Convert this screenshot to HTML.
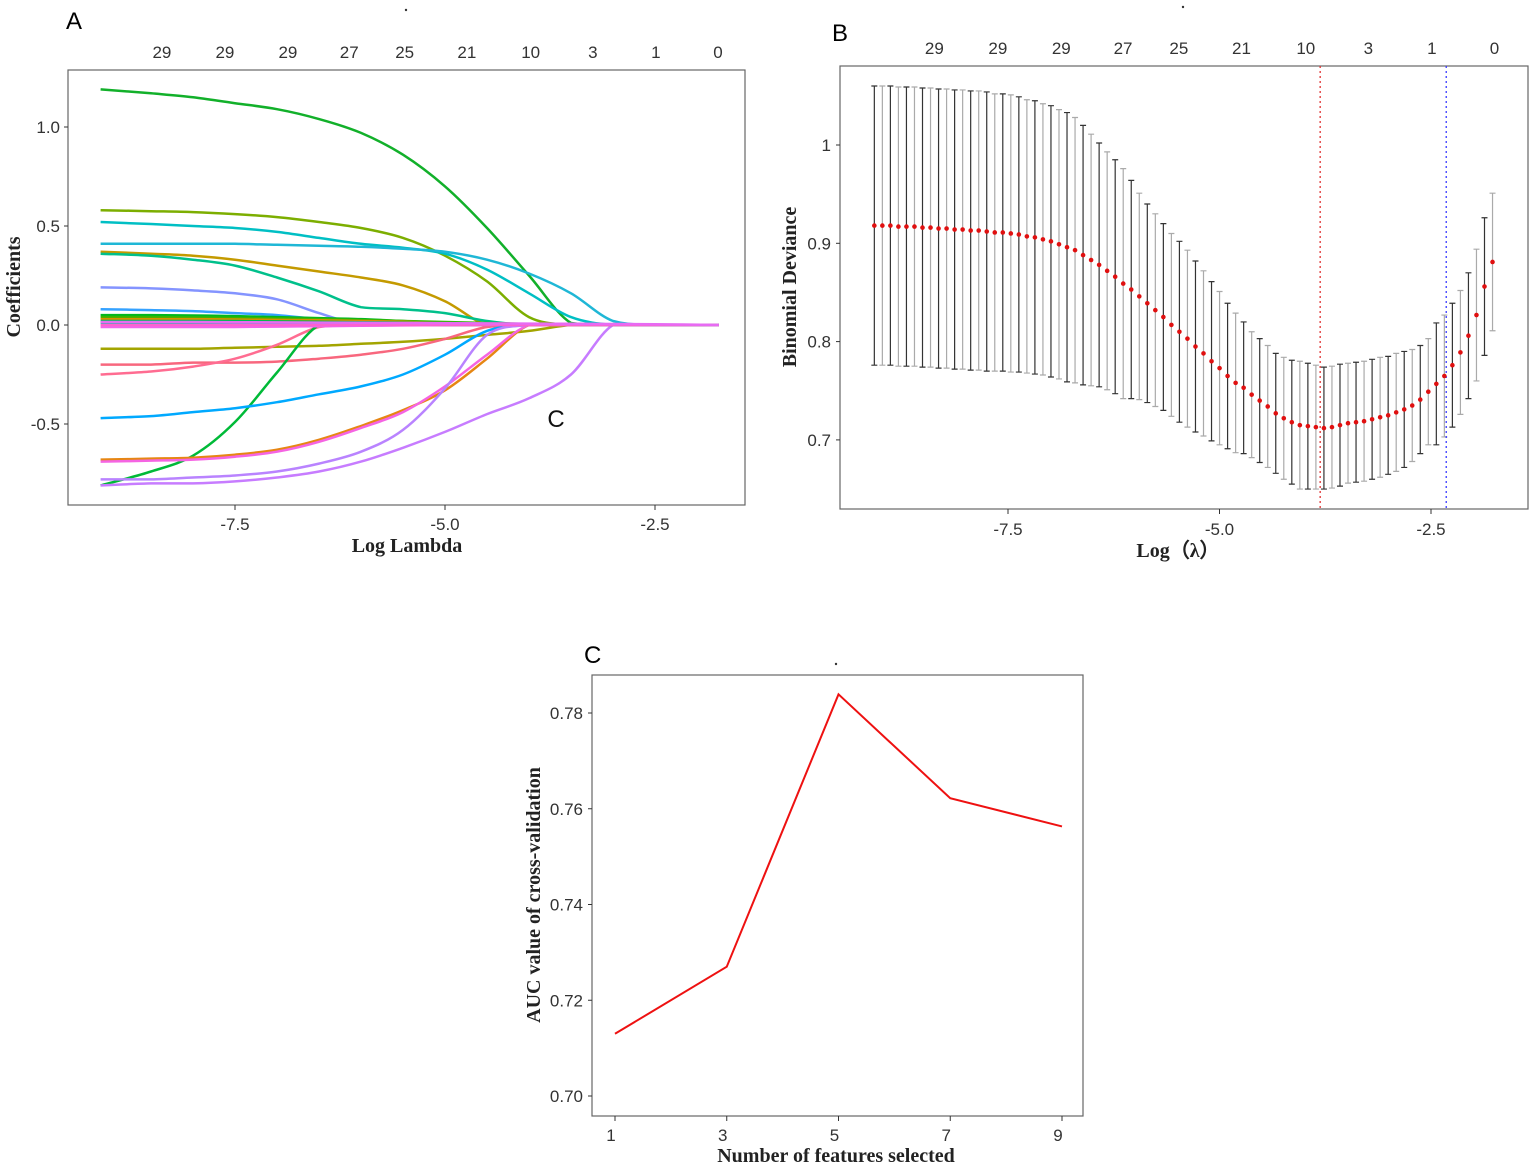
<!DOCTYPE html>
<html><head><meta charset="utf-8"><style>
body{margin:0;background:#fff}
svg text{font-family:"Liberation Sans",sans-serif}
.tk{font-size:17px;fill:#333}
.ttl{font-family:"Liberation Serif",serif!important;font-weight:bold;font-size:20px;fill:#222}
</style></head><body>
<svg id="fig" width="1535" height="1168" viewBox="0 0 1535 1168" xmlns="http://www.w3.org/2000/svg">
<text x="66" y="29" font-size="24">A</text>
<text x="832" y="41" font-size="24">B</text>
<text x="584" y="663" font-size="24">C</text>
<circle cx="406" cy="10" r="1.2" fill="#333"/>
<circle cx="1183" cy="7" r="1.2" fill="#333"/>
<circle cx="836" cy="664" r="1.2" fill="#333"/>
<g id="A"></g>
<g id="B"></g>
<g id="C"></g>
</svg>
<script>
// ---------- Data ----------
const topCounts = ["29","29","29","27","25","21","10","3","1","0"];
const topLambda = [-8.37,-7.62,-6.87,-6.14,-5.48,-4.74,-3.98,-3.24,-2.49,-1.75];
const xTicksLam = [-7.5,-5.0,-2.5];
const coefYTicks = [1.0,0.5,0.0,-0.5];
const coefGrid = [-9.1,-8.5,-8,-7.5,-7,-6.5,-6,-5.5,-5,-4.5,-4,-3.5,-3,-2.5,-1.74];
const coefColors = ["#12b02a","#7cae00","#00bfc4","#1fb7d6","#c49a00","#00c08b","#8494ff","#35a2ff","#a3a500","#f8677e","#ff6c91","#00ba38","#00a9ff","#e68613","#f564e3","#b983ff","#c77cff","#00b81f","#39b600","#d89000","#00bb4e","#00c1a3","#f066ea","#fd61d1","#e76bf3","#ff65ac","#9590ff","#f8766d","#ef7f49","#00bcd8"];
const c01=[1.19,1.17,1.15,1.12,1.09,1.04,0.97,0.86,0.70,0.49,0.25,0.01,0,0,0];
const c02=[0.58,0.575,0.57,0.56,0.545,0.52,0.49,0.44,0.35,0.22,0.04,0,0,0,0];
const c03=[0.52,0.51,0.50,0.49,0.47,0.44,0.41,0.39,0.36,0.28,0.16,0.04,0,0,0];
const c04=[0.41,0.41,0.41,0.41,0.405,0.40,0.395,0.385,0.37,0.33,0.26,0.16,0.02,0,0];
const c05=[0.37,0.36,0.35,0.33,0.30,0.27,0.24,0.20,0.12,0.0,0,0,0,0,0];
const c06=[0.36,0.35,0.33,0.30,0.24,0.17,0.09,0.08,0.06,0.02,0,0,0,0,0];
const c07=[0.19,0.185,0.175,0.16,0.13,0.06,0,0,0,0,0,0,0,0,0];
const c08=[0.08,0.075,0.07,0.06,0.05,0.03,0.02,0.01,0,0,0,0,0,0,0];
const c09=[-0.12,-0.12,-0.12,-0.115,-0.11,-0.105,-0.095,-0.085,-0.07,-0.05,-0.03,0,0,0,0];
const c10=[-0.20,-0.20,-0.19,-0.19,-0.185,-0.17,-0.15,-0.12,-0.07,-0.01,0,0,0,0,0];
const c11=[-0.25,-0.235,-0.21,-0.17,-0.10,-0.01,0,0,0,0,0,0,0,0,0];
const c12=[-0.81,-0.74,-0.66,-0.49,-0.24,0,0,0,0,0,0,0,0,0,0];
const c13=[-0.47,-0.46,-0.44,-0.42,-0.39,-0.35,-0.31,-0.25,-0.15,-0.03,0,0,0,0,0];
const c14=[-0.68,-0.675,-0.67,-0.655,-0.63,-0.58,-0.51,-0.43,-0.33,-0.17,0,0,0,0,0];
const c15=[-0.69,-0.685,-0.68,-0.665,-0.64,-0.59,-0.52,-0.44,-0.31,-0.15,0,0,0,0,0];
const c16=[-0.78,-0.78,-0.77,-0.76,-0.74,-0.70,-0.64,-0.53,-0.32,-0.05,0,0,0,0,0];
const c17=[-0.81,-0.80,-0.80,-0.79,-0.77,-0.74,-0.69,-0.62,-0.54,-0.45,-0.37,-0.25,0,0,0];
const c18=[0.05,0.05,0.048,0.045,0.04,0.035,0.03,0.02,0.01,0.005,0,0,0,0,0];
const c19=[0.04,0.04,0.038,0.036,0.033,0.03,0.025,0.02,0.015,0.01,0.005,0,0,0,0];
const c20=[0.03,0.03,0.03,0.028,0.026,0.024,0.02,0.016,0.01,0.005,0,0,0,0,0];
const c21=[0.02,0.02,0.02,0.02,0.018,0.016,0.014,0.012,0.01,0.008,0.005,0.003,0.001,0,0];
const c22=[0.01,0.01,0.01,0.01,0.01,0.008,0.006,0.005,0.004,0.003,0.002,0.001,0,0,0];
const c23=[-0.01,-0.01,-0.01,-0.01,-0.008,-0.006,-0.004,-0.002,0,0,0,0,0,0,0];
const c24=[0.0,0.0,0.0,0.0,0.0,0.0,0.0,0.0,0,0,0,0,0,0,0];
const c25=[0.015,0.015,0.015,0.014,0.013,0.012,0.011,0.01,0.009,0.008,0.007,0.006,0.005,0.004,0];
const coefSeries=[c01,c02,c03,c04,c05,c06,c07,c08,c09,c10,c11,c12,c13,c14,c15,c16,c17,c18,c19,c20,c21,c22,c23,c24,c25];
const cvYTicks=[1.0,0.9,0.8,0.7];
const cvLogLambdaStart=-9.08, cvLogLambdaStep=0.0949;
const cvMean=[.918,.918,.918,.917,.917,.917,.916,.916,.915,.915,.914,.914,.913,.913,.912,.911,.911,.910,.909,.907,.906,.904,.902,.899,.896,.893,.888,.883,.878,.872,.866,.859,.853,.846,.839,.832,.825,.817,.810,.803,.795,.788,.780,.773,.765,.758,.753,.746,.740,.734,.727,.722,.718,.715,.714,.713,.712,.713,.715,.717,.718,.719,.721,.723,.725,.728,.731,.735,.741,.749,.757,.765,.776,.789,.806,.827,.856,.881];
const cvSd=[.142,.142,.142,.142,.142,.142,.142,.142,.142,.142,.142,.142,.142,.142,.142,.141,.141,.141,.140,.139,.139,.138,.138,.137,.137,.135,.132,.128,.124,.121,.119,.117,.111,.105,.101,.098,.095,.093,.092,.090,.087,.084,.081,.078,.074,.071,.067,.064,.063,.062,.061,.062,.063,.065,.064,.063,.062,.062,.062,.061,.061,.061,.061,.061,.060,.060,.059,.057,.055,.054,.062,.062,.063,.063,.064,.067,.070,.070];
const cvMinLambda=-3.81, cv1seLambda=-2.32;
const aucFeatures=[1,3,5,7,9];
const aucValues=[0.7130,0.7270,0.7839,0.7622,0.7563];
const aucYTicks=[0.70,0.72,0.74,0.76,0.78];

// ---------- helpers ----------
const NS="http://www.w3.org/2000/svg";
function mk(parent,tag,attrs,text){const e=document.createElementNS(NS,tag);for(const k in attrs)e.setAttribute(k,attrs[k]);if(text!==undefined)e.textContent=text;parent.appendChild(e);return e;}
function smoothPath(pts){let d="M"+pts[0][0].toFixed(1)+","+pts[0][1].toFixed(1);
 for(let i=0;i<pts.length-1;i++){const p0=pts[Math.max(0,i-1)],p1=pts[i],p2=pts[i+1],p3=pts[Math.min(pts.length-1,i+2)];
  let c1y=p1[1]+(p2[1]-p0[1])/6,c2y=p2[1]-(p3[1]-p1[1])/6;
  const lo=Math.min(p1[1],p2[1]),hi=Math.max(p1[1],p2[1]);c1y=Math.min(hi,Math.max(lo,c1y));c2y=Math.min(hi,Math.max(lo,c2y));
  d+=" C"+(p1[0]+(p2[0]-p0[0])/6).toFixed(1)+","+c1y.toFixed(1)+" "+(p2[0]-(p3[0]-p1[0])/6).toFixed(1)+","+c2y.toFixed(1)+" "+p2[0].toFixed(1)+","+p2[1].toFixed(1);}
 return d;}

// ---------- Panel A ----------
(function(){
 const g=document.getElementById("A");
 const L=68,R=745,T=70,B=505;
 const xs=v=>235+(v+7.5)*84, ys=v=>325-v*198;
 const box=mk(g,"rect",{x:L,y:T,width:R-L,height:B-T,fill:"none",stroke:"#666","stroke-width":1.2});
 
 
 coefSeries.forEach((s,i)=>{
  const pts=coefGrid.map((x,j)=>[xs(x),ys(s[j])]);
  const p=mk(g,"path",{d:smoothPath(pts),fill:"none",stroke:coefColors[i%coefColors.length],"stroke-width":2.5});
  
  
 });
 coefYTicks.forEach(v=>{
  const t=mk(g,"line",{x1:L-4,x2:L,y1:ys(v),y2:ys(v),stroke:"#333"});
  
  
  const l=mk(g,"text",{x:L-8,y:ys(v)+6,"text-anchor":"end",class:"tk"},v.toFixed(1));
  
  
 });
 xTicksLam.forEach(v=>{
  const t=mk(g,"line",{x1:xs(v),x2:xs(v),y1:B,y2:B+5,stroke:"#333"});
  
  
  const l=mk(g,"text",{x:xs(v),y:B+25,"text-anchor":"middle",class:"tk"},v.toFixed(1));
  
  
 });
 topLambda.forEach((v,i)=>{
  const l=mk(g,"text",{x:xs(v),y:58,"text-anchor":"middle",class:"tk"},topCounts[i]);
  
  
 });
 const xt=mk(g,"text",{x:407,y:552,"text-anchor":"middle",class:"ttl"},"Log Lambda");
 
 
 const yt=mk(g,"text",{x:0,y:0,"text-anchor":"middle",class:"ttl",transform:"translate(20,287) rotate(-90)"},"Coefficients");
 
 
 const c=mk(g,"text",{x:556,y:427,"text-anchor":"middle","font-size":24,fill:"#111"},"C");
 
 
})();

// ---------- Panel B ----------
(function(){
 const g=document.getElementById("B");
 const L=840,R=1528,T=66,B=509;
 const xs=v=>1008+(v+7.5)*84.6, ys=v=>145+(1-v)*983;
 const box=mk(g,"rect",{x:L,y:T,width:R-L,height:B-T,fill:"none",stroke:"#666","stroke-width":1.2});
 
 
 cvMean.forEach((m,i)=>{
  const x=xs(cvLogLambdaStart+i*cvLogLambdaStep),s=cvSd[i];
  const col=i%2===0?"#333":"#aaa";
  const e=mk(g,"path",{d:`M${x},${ys(m+s)}V${ys(m-s)}M${x-3},${ys(m+s)}h6M${x-3},${ys(m-s)}h6`,stroke:col,"stroke-width":1.2,fill:"none"});
  
  
 });
 [[cvMinLambda,"#e03030"],[cv1seLambda,"#3a3aff"]].forEach(([v,c])=>{
  const l=mk(g,"line",{x1:xs(v),x2:xs(v),y1:T,y2:B,stroke:c,"stroke-width":1.3,"stroke-dasharray":"2,3"});
  
  
 });
 cvMean.forEach((m,i)=>{
  const d=mk(g,"circle",{cx:xs(cvLogLambdaStart+i*cvLogLambdaStep),cy:ys(m),r:2.3,fill:"#e01010"});
  
  
 });
 cvYTicks.forEach(v=>{
  const t=mk(g,"line",{x1:L-4,x2:L,y1:ys(v),y2:ys(v),stroke:"#333"});
  
  
  const l=mk(g,"text",{x:L-9,y:ys(v)+6,"text-anchor":"end",class:"tk"},v===1?"1":v.toFixed(1));
  
  
 });
 xTicksLam.forEach(v=>{
  const t=mk(g,"line",{x1:xs(v),x2:xs(v),y1:B,y2:B+5,stroke:"#333"});
  
  
  const l=mk(g,"text",{x:xs(v),y:B+26,"text-anchor":"middle",class:"tk"},v.toFixed(1));
  
  
 });
 topLambda.forEach((v,i)=>{
  const l=mk(g,"text",{x:xs(v),y:54,"text-anchor":"middle",class:"tk"},topCounts[i]);
  
  
 });
 const xt=mk(g,"text",{x:1178,y:557,"text-anchor":"middle",class:"ttl"},"Log（λ）");
 
 
 const yt=mk(g,"text",{x:0,y:0,"text-anchor":"middle",class:"ttl",transform:"translate(796,287) rotate(-90)"},"Binomial Deviance");
 
 
})();

// ---------- Panel C ----------
(function(){
 const g=document.getElementById("C");
 const L=592,R=1083,T=675,B=1116;
 const xs=v=>615+(v-1)*(1062-615)/8, ys=v=>713+(0.78-v)*(1096-713)/0.08;
 const box=mk(g,"rect",{x:L,y:T,width:R-L,height:B-T,fill:"none",stroke:"#666","stroke-width":1.2});
 
 
 const line=mk(g,"polyline",{points:aucFeatures.map((f,i)=>xs(f)+","+ys(aucValues[i])).join(" "),fill:"none",stroke:"#ee1111","stroke-width":2});
 
 
 aucYTicks.forEach(v=>{
  const t=mk(g,"line",{x1:L-4,x2:L,y1:ys(v),y2:ys(v),stroke:"#333"});
  
  
  const l=mk(g,"text",{x:L-9,y:ys(v)+6,"text-anchor":"end",class:"tk"},v.toFixed(2));
  
  
 });
 aucFeatures.forEach(v=>{
  const t=mk(g,"line",{x1:xs(v),x2:xs(v),y1:B,y2:B+5,stroke:"#333"});
  
  
  const l=mk(g,"text",{x:xs(v)-4,y:B+25,"text-anchor":"middle",class:"tk"},String(v));
  
  
 });
 const xt=mk(g,"text",{x:836,y:1162,"text-anchor":"middle",class:"ttl"},"Number of features selected");
 
 
 const yt=mk(g,"text",{x:0,y:0,"text-anchor":"middle",class:"ttl",transform:"translate(540,895) rotate(-90)"},"AUC value of cross-validation");
 
 
})();
</script>
</body></html>
